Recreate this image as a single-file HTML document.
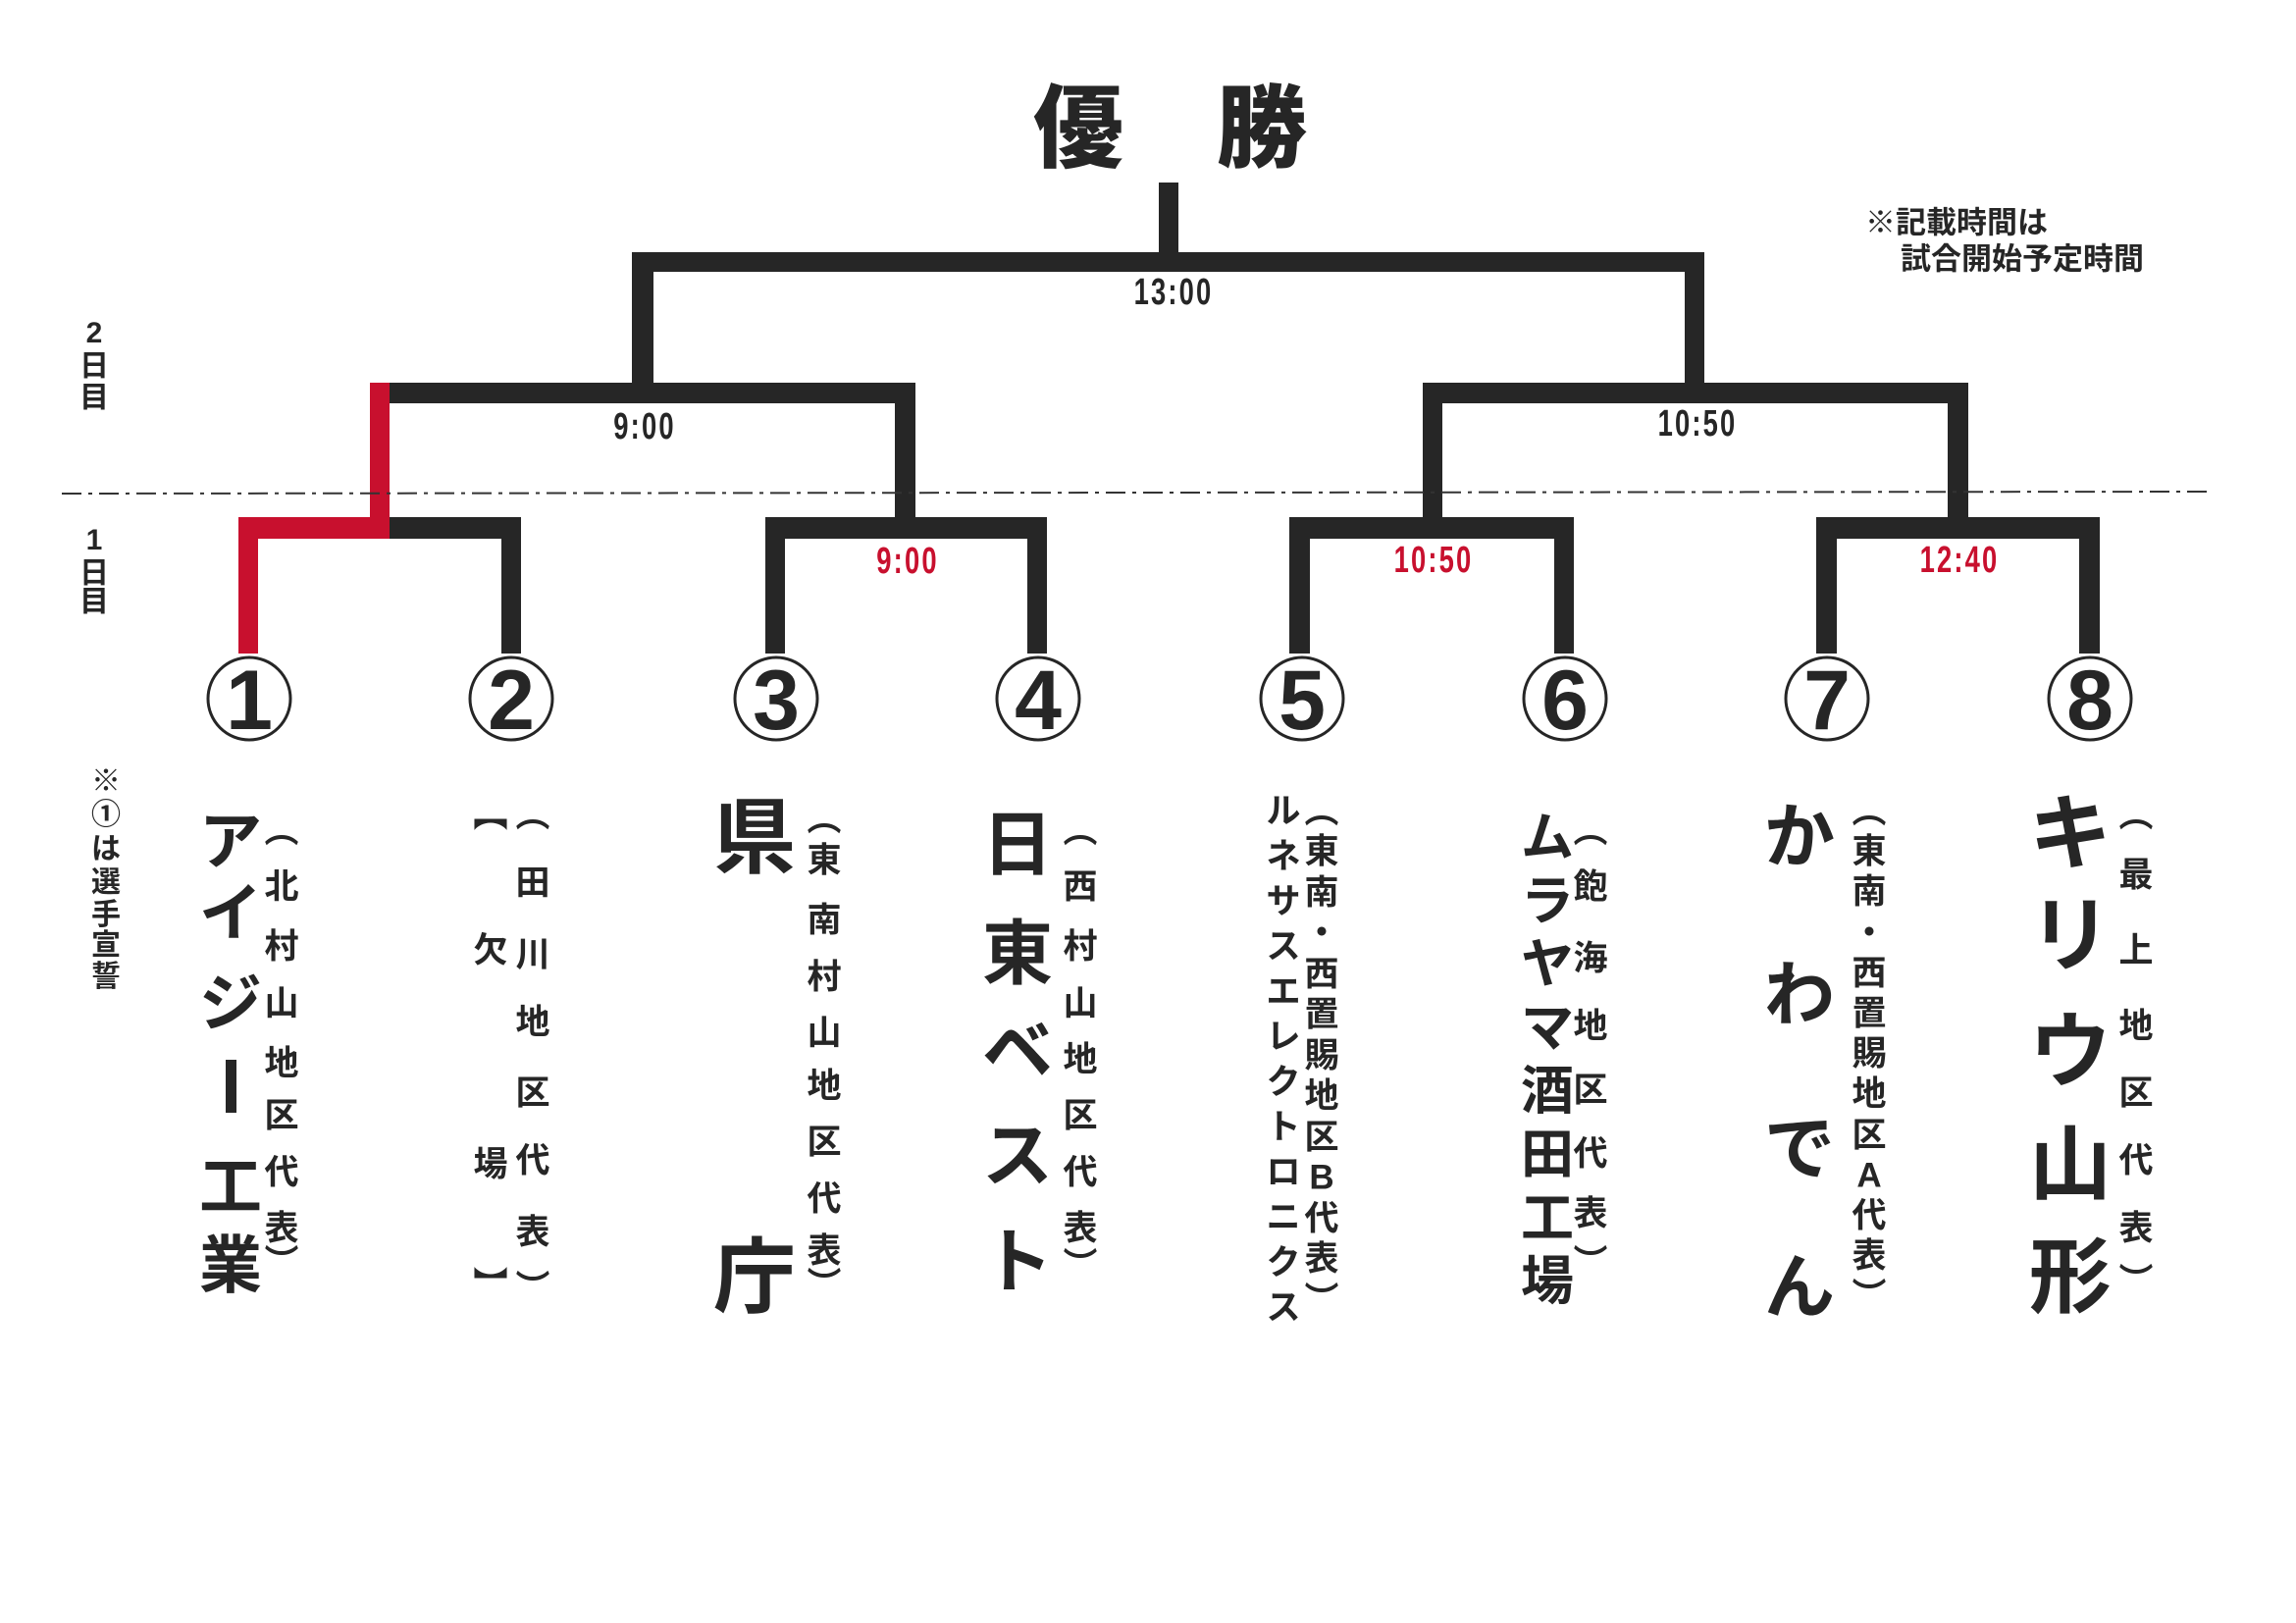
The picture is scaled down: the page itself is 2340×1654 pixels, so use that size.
<!DOCTYPE html>
<html><head><meta charset="utf-8"><style>
html,body{margin:0;padding:0;background:#fff;}
#p{position:relative;width:2340px;height:1654px;overflow:hidden;background:#fff;}
.c{position:absolute;transform:translate(-50%,-50%);line-height:1;font-family:"Liberation Sans","Noto Sans CJK JP",sans-serif;font-weight:700;color:#262626;white-space:nowrap;}
.t{position:absolute;transform:translate(-50%,-50%) scaleX(0.72);line-height:1;font-family:"Liberation Sans",sans-serif;font-weight:700;font-size:38px;letter-spacing:3px;color:#262626;}
.r{color:#c8102e;}
.s{font-size:30px;}
.m{font-size:35px;}
.b{font-size:64px;}
.B{font-size:84px;}
</style></head><body><div id="p">
<svg width="2340" height="1654" style="position:absolute;left:0;top:0">
<g fill="#262626">
<rect x="1181" y="186" width="20" height="81"/>
<rect x="644" y="257" width="1093" height="20"/>
<rect x="644" y="257" width="22" height="145"/>
<rect x="1717" y="257" width="20" height="145"/>
<rect x="397" y="390" width="536" height="21"/>
<rect x="912" y="390" width="21" height="150"/>
<rect x="397" y="527" width="134" height="22"/>
<rect x="511" y="527" width="20" height="139"/>
<rect x="780" y="527" width="287" height="22"/>
<rect x="780" y="527" width="20" height="139"/>
<rect x="1047" y="527" width="20" height="139"/>
<rect x="1450" y="390" width="556" height="21"/>
<rect x="1450" y="390" width="20" height="150"/>
<rect x="1985" y="390" width="21" height="150"/>
<rect x="1314" y="527" width="290" height="22"/>
<rect x="1314" y="527" width="21" height="139"/>
<rect x="1584" y="527" width="20" height="139"/>
<rect x="1851" y="527" width="289" height="22"/>
<rect x="1851" y="527" width="21" height="139"/>
<rect x="2119" y="527" width="21" height="139"/>
<rect x="230" y="1080" width="11" height="54"/>
</g>
<g fill="#c8102e">
<rect x="377" y="390" width="20" height="159"/>
<rect x="243" y="527" width="154" height="22"/>
<rect x="243" y="527" width="20" height="139"/>
</g>
<line x1="63" y1="503" x2="2252" y2="501" stroke="#333" stroke-width="2" stroke-dasharray="20 7 4 7"/>
<g fill="none" stroke="#262626" stroke-width="3">
<circle cx="254" cy="712" r="42"/><circle cx="521" cy="712" r="42"/><circle cx="791" cy="712" r="42"/><circle cx="1058" cy="712" r="42"/>
<circle cx="1327" cy="712" r="42"/><circle cx="1595" cy="712" r="42"/><circle cx="1862" cy="712" r="42"/><circle cx="2130" cy="712" r="42"/>
</g>
</svg>

<div class="c" style="left:1099px;top:132px;font-size:92px;font-weight:900">優</div>
<div class="c" style="left:1286px;top:132px;font-size:92px;font-weight:900">勝</div>

<div class="c" style="left:1901px;top:227px;font-size:31px;transform:translate(0,-50%)">※記載時間は</div>
<div class="c" style="left:1937px;top:264px;font-size:31px;transform:translate(0,-50%)">試合開始予定時間</div>

<div class="t" style="left:1196px;top:298px">13:00</div>
<div class="t" style="left:657px;top:435px">9:00</div>
<div class="t" style="left:1730px;top:432px">10:50</div>
<div class="t r" style="left:925px;top:572px">9:00</div>
<div class="t r" style="left:1461px;top:571px">10:50</div>
<div class="t r" style="left:1997px;top:571px">12:40</div>

<div class="c s" style="left:96px;top:340px">2</div>
<div class="c s" style="left:96px;top:374px">日</div>
<div class="c s" style="left:96px;top:406px">目</div>
<div class="c s" style="left:96px;top:551px">1</div>
<div class="c s" style="left:96px;top:585px">日</div>
<div class="c s" style="left:96px;top:614px">目</div>

<div class="c" style="left:254px;top:714px;font-size:86px">1</div>
<div class="c" style="left:521px;top:714px;font-size:86px">2</div>
<div class="c" style="left:791px;top:714px;font-size:86px">3</div>
<div class="c" style="left:1058px;top:714px;font-size:86px">4</div>
<div class="c" style="left:1327px;top:714px;font-size:86px">5</div>
<div class="c" style="left:1595px;top:714px;font-size:86px">6</div>
<div class="c" style="left:1862px;top:714px;font-size:86px">7</div>
<div class="c" style="left:2130px;top:714px;font-size:86px">8</div>

<div class="c s" style="left:108px;top:797px">※</div>
<div class="c s" style="left:108px;top:831px">①</div>
<div class="c s" style="left:108px;top:866px">は</div>
<div class="c s" style="left:108px;top:900px">選</div>
<div class="c s" style="left:108px;top:933px">手</div>
<div class="c s" style="left:108px;top:964px">宣</div>
<div class="c s" style="left:108px;top:996px">誓</div>

<div class="c b" style="left:235px;top:858px">ア</div>
<div class="c b" style="left:235px;top:931px">イ</div>
<div class="c b" style="left:235px;top:1023px">ジ</div>
<div class="c b" style="left:235px;top:1210px">工</div>
<div class="c b" style="left:235px;top:1290px">業</div>
<div class="c m" style="left:287px;top:847px">︵</div>
<div class="c m" style="left:287px;top:904px">北</div>
<div class="c m" style="left:287px;top:965px">村</div>
<div class="c m" style="left:287px;top:1023px">山</div>
<div class="c m" style="left:287px;top:1084px">地</div>
<div class="c m" style="left:287px;top:1137px">区</div>
<div class="c m" style="left:287px;top:1195px">代</div>
<div class="c m" style="left:287px;top:1252px">表</div>
<div class="c m" style="left:287px;top:1287px">︶</div>

<div class="c m" style="left:500px;top:831px">︻</div>
<div class="c m" style="left:500px;top:969px">欠</div>
<div class="c m" style="left:500px;top:1187px">場</div>
<div class="c m" style="left:500px;top:1310px">︼</div>
<div class="c m" style="left:543px;top:831px">︵</div>
<div class="c m" style="left:543px;top:900px">田</div>
<div class="c m" style="left:543px;top:973px">川</div>
<div class="c m" style="left:543px;top:1042px">地</div>
<div class="c m" style="left:543px;top:1114px">区</div>
<div class="c m" style="left:543px;top:1183px">代</div>
<div class="c m" style="left:543px;top:1256px">表</div>
<div class="c m" style="left:543px;top:1313px">︶</div>

<div class="c B" style="left:769px;top:854px">県</div>
<div class="c B" style="left:769px;top:1302px">庁</div>
<div class="c m" style="left:840px;top:835px">︵</div>
<div class="c m" style="left:840px;top:877px">東</div>
<div class="c m" style="left:840px;top:938px">南</div>
<div class="c m" style="left:840px;top:996px">村</div>
<div class="c m" style="left:840px;top:1053px">山</div>
<div class="c m" style="left:840px;top:1107px">地</div>
<div class="c m" style="left:840px;top:1164px">区</div>
<div class="c m" style="left:840px;top:1222px">代</div>
<div class="c m" style="left:840px;top:1275px">表</div>
<div class="c m" style="left:840px;top:1310px">︶</div>

<div class="c" style="left:1037px;top:862px;font-size:72px">日</div>
<div class="c" style="left:1037px;top:973px;font-size:72px">東</div>
<div class="c" style="left:1037px;top:1072px;font-size:72px">ベ</div>
<div class="c" style="left:1037px;top:1179px;font-size:72px">ス</div>
<div class="c" style="left:1037px;top:1287px;font-size:72px">ト</div>
<div class="c m" style="left:1101px;top:847px">︵</div>
<div class="c m" style="left:1101px;top:904px">西</div>
<div class="c m" style="left:1101px;top:965px">村</div>
<div class="c m" style="left:1101px;top:1023px">山</div>
<div class="c m" style="left:1101px;top:1080px">地</div>
<div class="c m" style="left:1101px;top:1137px">区</div>
<div class="c m" style="left:1101px;top:1195px">代</div>
<div class="c m" style="left:1101px;top:1252px">表</div>
<div class="c m" style="left:1101px;top:1290px">︶</div>

<div class="c m" style="left:1308px;top:827px">ル</div>
<div class="c m" style="left:1308px;top:873px">ネ</div>
<div class="c m" style="left:1308px;top:919px">サ</div>
<div class="c m" style="left:1308px;top:965px">ス</div>
<div class="c m" style="left:1308px;top:1011px">エ</div>
<div class="c m" style="left:1308px;top:1057px">レ</div>
<div class="c m" style="left:1308px;top:1103px">ク</div>
<div class="c m" style="left:1308px;top:1149px">ト</div>
<div class="c m" style="left:1308px;top:1195px">ロ</div>
<div class="c m" style="left:1308px;top:1241px">ニ</div>
<div class="c m" style="left:1308px;top:1287px">ク</div>
<div class="c m" style="left:1308px;top:1333px">ス</div>
<div class="c m" style="left:1347px;top:827px">︵</div>
<div class="c m" style="left:1347px;top:868px">東</div>
<div class="c m" style="left:1347px;top:910px">南</div>
<div class="c m" style="left:1347px;top:951px">・</div>
<div class="c m" style="left:1347px;top:993px">西</div>
<div class="c m" style="left:1347px;top:1034px">置</div>
<div class="c m" style="left:1347px;top:1076px">賜</div>
<div class="c m" style="left:1347px;top:1117px">地</div>
<div class="c m" style="left:1347px;top:1159px">区</div>
<div class="c m" style="left:1347px;top:1200px">B</div>
<div class="c m" style="left:1347px;top:1242px">代</div>
<div class="c m" style="left:1347px;top:1283px">表</div>
<div class="c m" style="left:1347px;top:1325px">︶</div>

<div class="c" style="left:1577px;top:854px;font-size:54px">ム</div>
<div class="c" style="left:1577px;top:919px;font-size:54px">ラ</div>
<div class="c" style="left:1577px;top:983px;font-size:54px">ヤ</div>
<div class="c" style="left:1577px;top:1048px;font-size:54px">マ</div>
<div class="c" style="left:1577px;top:1112px;font-size:54px">酒</div>
<div class="c" style="left:1577px;top:1177px;font-size:54px">田</div>
<div class="c" style="left:1577px;top:1242px;font-size:54px">工</div>
<div class="c" style="left:1577px;top:1306px;font-size:54px">場</div>
<div class="c m" style="left:1621px;top:847px">︵</div>
<div class="c m" style="left:1621px;top:904px">飽</div>
<div class="c m" style="left:1621px;top:977px">海</div>
<div class="c m" style="left:1621px;top:1046px">地</div>
<div class="c m" style="left:1621px;top:1111px">区</div>
<div class="c m" style="left:1621px;top:1176px">代</div>
<div class="c m" style="left:1621px;top:1237px">表</div>
<div class="c m" style="left:1621px;top:1287px">︶</div>

<div class="c" style="left:1834px;top:854px;font-size:72px">か</div>
<div class="c" style="left:1834px;top:1015px;font-size:72px">わ</div>
<div class="c" style="left:1834px;top:1172px;font-size:72px">で</div>
<div class="c" style="left:1834px;top:1313px;font-size:72px">ん</div>
<div class="c m" style="left:1905px;top:827px">︵</div>
<div class="c m" style="left:1905px;top:868px">東</div>
<div class="c m" style="left:1905px;top:909px">南</div>
<div class="c m" style="left:1905px;top:951px">・</div>
<div class="c m" style="left:1905px;top:992px">西</div>
<div class="c m" style="left:1905px;top:1033px">置</div>
<div class="c m" style="left:1905px;top:1074px">賜</div>
<div class="c m" style="left:1905px;top:1115px">地</div>
<div class="c m" style="left:1905px;top:1157px">区</div>
<div class="c m" style="left:1905px;top:1198px">A</div>
<div class="c m" style="left:1905px;top:1239px">代</div>
<div class="c m" style="left:1905px;top:1280px">表</div>
<div class="c m" style="left:1905px;top:1321px">︶</div>

<div class="c" style="left:2110px;top:850px;font-size:84px">キ</div>
<div class="c" style="left:2110px;top:954px;font-size:84px">リ</div>
<div class="c" style="left:2110px;top:1072px;font-size:84px">ウ</div>
<div class="c" style="left:2110px;top:1187px;font-size:84px">山</div>
<div class="c" style="left:2110px;top:1302px;font-size:84px">形</div>
<div class="c m" style="left:2177px;top:831px">︵</div>
<div class="c m" style="left:2177px;top:892px">最</div>
<div class="c m" style="left:2177px;top:969px">上</div>
<div class="c m" style="left:2177px;top:1046px">地</div>
<div class="c m" style="left:2177px;top:1114px">区</div>
<div class="c m" style="left:2177px;top:1183px">代</div>
<div class="c m" style="left:2177px;top:1252px">表</div>
<div class="c m" style="left:2177px;top:1306px">︶</div>
</div></body></html>
